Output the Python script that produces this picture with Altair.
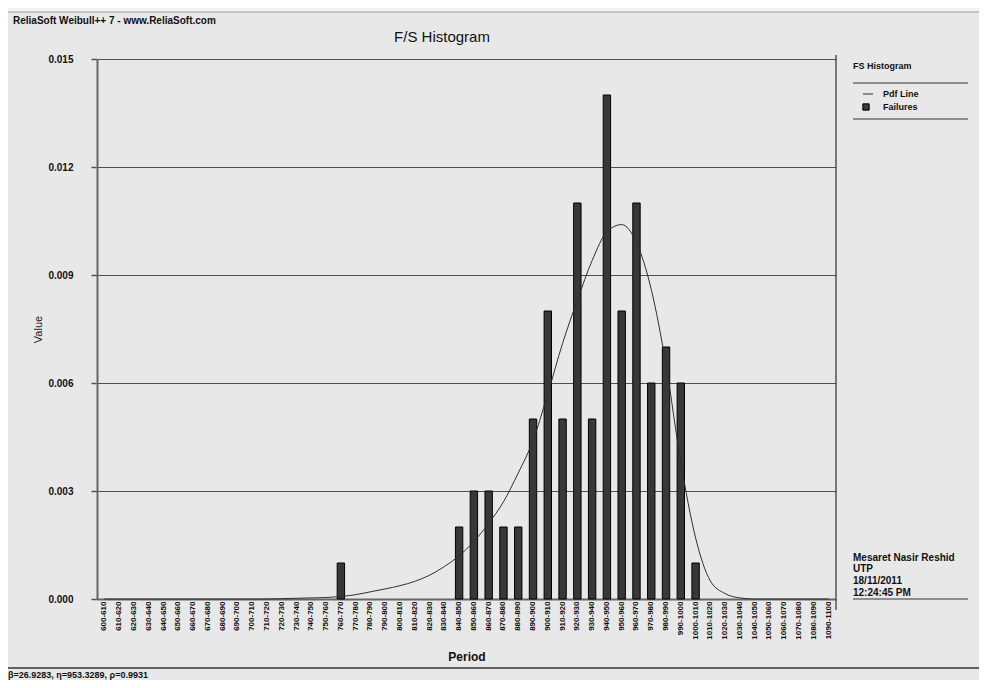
import altair as alt
import pandas as pd

periods = [
    "600-610", "610-620", "620-630", "630-640", "640-650", "650-660", "660-670", "670-680", "680-690", "690-700",
    "700-710", "710-720", "720-730", "730-740", "740-750", "750-760", "760-770", "770-780", "780-790", "790-800",
    "800-810", "810-820", "820-830", "830-840", "840-850", "850-860", "860-870", "870-880", "880-890", "890-900",
    "900-910", "910-920", "920-930", "930-940", "940-950", "950-960", "960-970", "970-980", "980-990", "990-1000",
    "1000-1010", "1010-1020", "1020-1030", "1030-1040", "1040-1050", "1050-1060", "1060-1070", "1070-1080",
    "1080-1090", "1090-1100",
]

failures = [
    0, 0, 0, 0, 0, 0, 0, 0, 0, 0,
    0, 0, 0, 0, 0, 0, 0.001, 0, 0, 0,
    0, 0, 0, 0, 0.002, 0.003, 0.003, 0.002, 0.002, 0.005,
    0.008, 0.005, 0.011, 0.005, 0.014, 0.008, 0.011, 0.006, 0.007, 0.006,
    0.001, 0, 0, 0, 0, 0, 0, 0, 0, 0,
]

pdf_line = [
    0, 0, 0, 0, 0, 0, 0, 0, 0, 0,
    0, 0, 0.00001, 0.00002, 0.00003, 0.00004, 0.00007, 0.00012, 0.0002, 0.00028,
    0.00037, 0.00049, 0.00066, 0.0009, 0.0012, 0.0016, 0.0021, 0.0027, 0.0035, 0.0044,
    0.0057, 0.0071, 0.0083, 0.0094, 0.0102, 0.0104, 0.0099, 0.0086, 0.0065, 0.0038,
    0.0017, 0.0005, 0.00015, 0.00003, 0, 0, 0, 0, 0, 0,
]

y_ticks = [0.0, 0.003, 0.006, 0.009, 0.012, 0.015]

df = pd.DataFrame({"period": periods, "failures": failures, "pdf": pdf_line})

FONT = "Liberation Sans"
W, H = 739, 540

x_enc = alt.X(
    "period:N",
    sort=periods,
    scale=alt.Scale(paddingInner=0.5, paddingOuter=0.25),
    axis=alt.Axis(
        title="Period",
        labelAngle=270,
        labelFontSize=8,
        labelFontWeight="bold",
        labelFont=FONT,
        labelColor="#111111",
        labelPadding=2,
        ticks=False,
        domainColor="#666666",
        domainWidth=2,
        titleFont=FONT,
        titleFontSize=12,
        titleFontWeight="bold",
        titleColor="#111111",
        titleBaseline="middle",
        titleY=57,
        labelOverlap=False,
    ),
)

y_scale = alt.Scale(domain=[0, 0.015])
y_axis = alt.Axis(
    title="Value",
    values=y_ticks,
    format=".3f",
    labelFontSize=10,
    labelFontWeight="bold",
    labelFont=FONT,
    labelColor="#111111",
    labelPadding=18,
    tickSize=6,
    tickColor="#555555",
    tickWidth=1.5,
    domainColor="#666666",
    domainWidth=2,
    grid=True,
    gridColor="#505050",
    gridWidth=1,
    titleFont=FONT,
    titleFontSize=11,
    titleFontWeight="normal",
    titleColor="#222222",
    titleBaseline="middle",
    titleX=-59,
    titleY=H / 2,
)

bars = (
    alt.Chart(df)
    .transform_filter("datum.failures > 0")
    .mark_bar(color="#383838", stroke="#000000", strokeWidth=1)
    .encode(x=x_enc, y=alt.Y("failures:Q", scale=y_scale, axis=y_axis))
)

line = (
    alt.Chart(df)
    .mark_line(color="#303030", strokeWidth=1, interpolate="monotone")
    .encode(x=alt.X("period:N", sort=periods), y=alt.Y("pdf:Q", scale=y_scale))
)


def txt(s, x, y, size=9, weight="bold", align="left", baseline="middle"):
    return (
        alt.Chart(pd.DataFrame({"t": [s]}))
        .mark_text(font=FONT, fontSize=size, fontWeight=weight, align=align,
                   baseline=baseline, color="#111111")
        .encode(text="t:N", x=alt.value(x), y=alt.value(y))
    )


def hrule(x1, x2, y, color="#333333", width=1):
    return (
        alt.Chart(pd.DataFrame({"a": [0]}))
        .mark_rule(color=color, strokeWidth=width)
        .encode(x=alt.value(x1), x2=alt.value(x2), y=alt.value(y))
    )


def vrule(x, y1, y2, color="#555555", width=1.5):
    return (
        alt.Chart(pd.DataFrame({"a": [0]}))
        .mark_rule(color=color, strokeWidth=width)
        .encode(x=alt.value(x), y=alt.value(y1), y2=alt.value(y2))
    )


top_strip = (
    alt.Chart(pd.DataFrame({"a": [0]}))
    .mark_rect(color="#f2f2f2")
    .encode(x=alt.value(-89), x2=alt.value(882), y=alt.value(-51), y2=alt.value(-47))
)

legend_square = (
    alt.Chart(pd.DataFrame({"a": [0]}))
    .mark_point(shape="square", filled=True, color="#383838", stroke="#000000",
                strokeWidth=1, opacity=1, size=40)
    .encode(x=alt.value(769), y=alt.value(48))
)

annotations = [
    top_strip,
    hrule(-89, 882, -47, color="#9a9a9a", width=1),
    txt("ReliaSoft Weibull++ 7 - www.ReliaSoft.com", -84, -38, size=10),
    txt("F/S Histogram", 345, -22, size=15, weight="normal", align="center"),
    vrule(739, -4, 551),
    txt("FS Histogram", 756, 7, size=9),
    hrule(756, 871, 24),
    hrule(766, 776, 35, color="#333333"),
    txt("Pdf Line", 786, 35, size=9),
    legend_square,
    txt("Failures", 786, 48, size=9),
    hrule(756, 871, 60),
    txt("Mesaret Nasir Reshid", 756, 499, size=10),
    txt("UTP", 756, 510, size=10),
    txt("18/11/2011", 756, 522, size=10),
    txt("12:24:45 PM", 756, 534, size=10),
    hrule(756, 871, 540),
    hrule(-89, 882, 609, color="#333333", width=1.5),
    txt("\u03b2=26.9283, \u03b7=953.3289, \u03c1=0.9931", -89, 612, size=9, baseline="top"),
]

chart = (
    alt.layer(bars, line, *annotations)
    .properties(
        width=W,
        height=H,
        padding={"left": 89, "top": 51, "right": 143, "bottom": 81},
        autosize=alt.AutoSizeParams(type="none"),
        background="#e8e8e8",
    )
    .configure_view(stroke=None)
)

chart.save("out.html", embed_options={"renderer": "svg", "actions": False})
